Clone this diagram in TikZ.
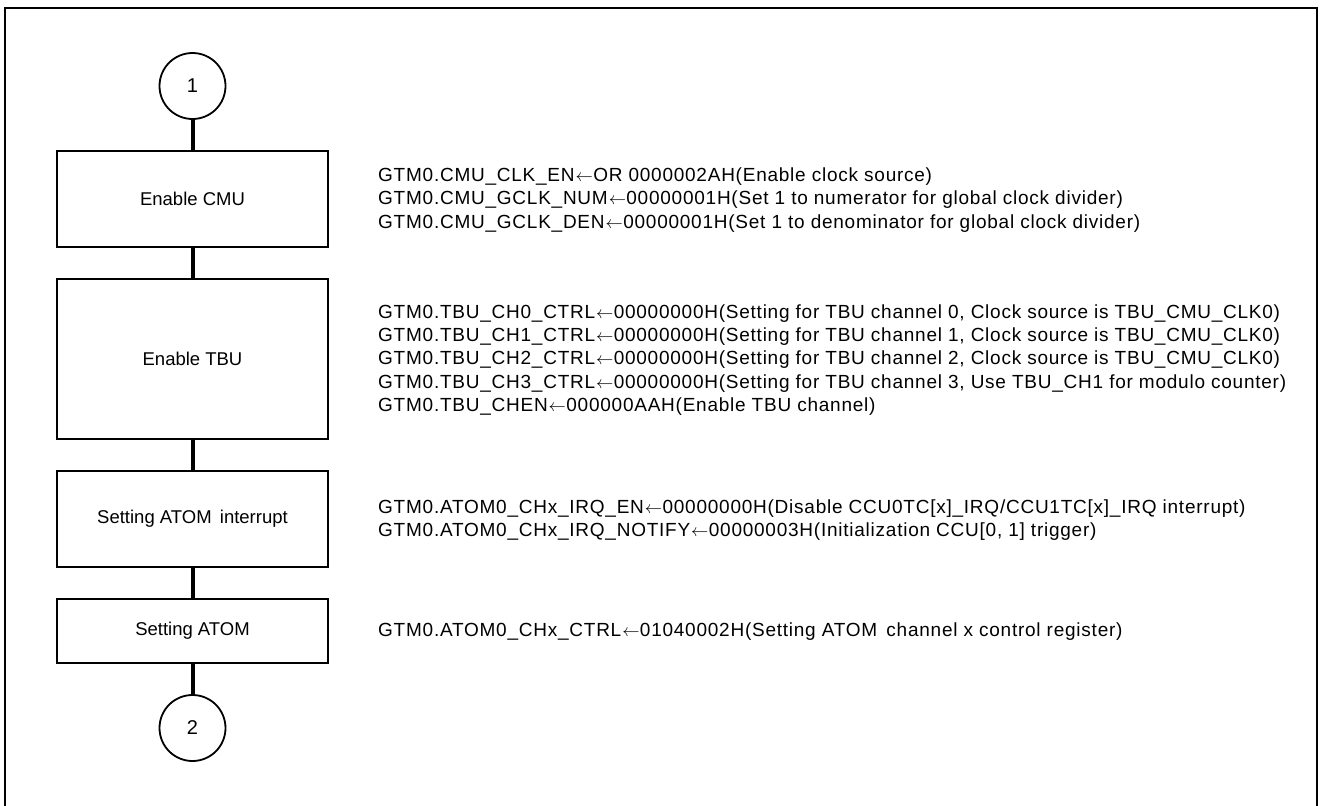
\documentclass[tikz,border=0pt]{standalone}
\usepackage{fontspec}
\setmainfont{Liberation Sans}
\newfontfamily\regfont[LetterSpace=4]{Liberation Sans}
\newcommand{\asg}{\kern0.05em$\leftarrow$\kern0.02em}
\begin{document}
\begin{tikzpicture}[x=1pt,y=-1pt,
  stepbox/.style={draw,line width=2pt,minimum width=271pt,inner sep=0pt,
    font=\fontsize{18.5}{22}\selectfont},
  connector/.style={draw,circle,line width=1.8pt,minimum size=66pt,inner sep=0pt,
    font=\fontsize{20}{24}\selectfont},
  link/.style={line width=4pt},
  regs/.style={anchor=west,align=left,inner sep=0pt,
    font=\regfont\fontsize{19}{23.3}\selectfont}]
\useasboundingbox (0,0) rectangle (1326,806);
% outer frame, open at the bottom edge
\draw[line width=2pt] (5,830) -- (5,8) -- (1317,8) -- (1317,830);

% flow chart column
\node[connector] (c1) at (192.5,86) {1};
\node[stepbox,minimum height=96pt] (cmu) at (192.5,199) {Enable CMU};
\node[stepbox,minimum height=160pt] (tbu) at (192.5,359) {Enable TBU};
\node[stepbox,minimum height=96pt] (irq) at (192.5,519) {Setting ATOM\, interrupt};
\node[stepbox,minimum height=64pt] (atom) at (192.5,631) {Setting ATOM};
\node[connector] (c2) at (192.5,728) {2};

\draw[link] (c1) -- (cmu);
\draw[link] (cmu) -- (tbu);
\draw[link] (tbu) -- (irq);
\draw[link] (irq) -- (atom);
\draw[link] (atom) -- (c2);

% register settings beside each step
\node[regs] (cmuregs) at (378,200) {GTM0.CMU\_CLK\_EN\asg OR 0000002AH(Enable clock source)\\
GTM0.CMU\_GCLK\_NUM\asg 00000001H(Set 1 to numerator for global clock divider)\\
GTM0.CMU\_GCLK\_DEN\asg 00000001H(Set 1 to denominator for global clock divider)};
\node[regs] (tburegs) at (378,360) {GTM0.TBU\_CH0\_CTRL\asg 00000000H(Setting for TBU channel 0, Clock source is TBU\_CMU\_CLK0)\\
GTM0.TBU\_CH1\_CTRL\asg 00000000H(Setting for TBU channel 1, Clock source is TBU\_CMU\_CLK0)\\
GTM0.TBU\_CH2\_CTRL\asg 00000000H(Setting for TBU channel 2, Clock source is TBU\_CMU\_CLK0)\\
GTM0.TBU\_CH3\_CTRL\asg 00000000H(Setting for TBU channel 3, Use TBU\_CH1 for modulo counter)\\
GTM0.TBU\_CHEN\asg 000000AAH(Enable TBU channel)};
\node[regs] (irqregs) at (378,520) {GTM0.ATOM0\_CHx\_IRQ\_EN\asg 00000000H(Disable CCU0TC[x]\_IRQ/CCU1TC[x]\_IRQ interrupt)\\
GTM0.ATOM0\_CHx\_IRQ\_NOTIFY\asg 00000003H(Initialization CCU[0, 1] trigger)};
\node[regs] (atomregs) at (378,632) {GTM0.ATOM0\_CHx\_CTRL\asg 01040002H(Setting ATOM\, channel x control register)};
\end{tikzpicture}
\end{document}
